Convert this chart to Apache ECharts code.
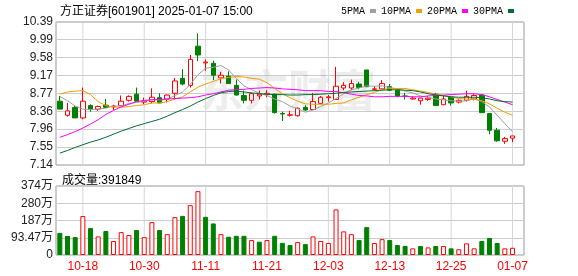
<!DOCTYPE html>
<html><head><meta charset="utf-8">
<script src="https://cdn.jsdelivr.net/npm/echarts@6/dist/echarts.min.js"></script>
<style>html,body{margin:0;padding:0;background:#fff}#c{width:578px;height:276px}</style>
</head><body><div id="c"></div>
<script>
const dates = ['10-15','10-16','10-17','10-18','10-21','10-22','10-23','10-24','10-25','10-28','10-29','10-30','10-31',
'11-01','11-04','11-05','11-06','11-07','11-08','11-11','11-12','11-13','11-14','11-15','11-18','11-19','11-20','11-21','11-22','11-25','11-26','11-27','11-28','11-29',
'12-02','12-03','12-04','12-05','12-06','12-09','12-10','12-11','12-12','12-13','12-16','12-17','12-18','12-19','12-20','12-23','12-24','12-25','12-26','12-27','12-30','12-31',
'01-02','01-03','01-06','01-07'];
const opens  = [8.59,8.27,8.45,8.21,8.49,8.41,8.50,8.46,8.49,8.61,8.75,8.57,8.58,8.67,8.64,8.77,9.11,8.95,9.84,9.46,9.45,9.12,9.16,8.95,8.72,8.61,8.71,8.74,8.75,8.31,8.27,8.26,8.45,8.40,8.54,8.67,8.63,8.89,8.89,8.98,9.30,8.86,8.87,8.92,8.84,8.71,8.64,8.60,8.63,8.75,8.51,8.68,8.57,8.61,8.64,8.73,8.31,7.93,7.68,7.75];
const closes = [8.41,8.37,8.21,8.59,8.40,8.47,8.45,8.48,8.59,8.70,8.59,8.59,8.68,8.55,8.73,9.05,8.98,9.54,9.64,9.48,9.18,9.18,8.99,8.73,8.61,8.76,8.75,8.77,8.33,8.30,8.28,8.43,8.39,8.58,8.68,8.69,8.93,8.95,8.99,8.90,8.92,8.87,8.99,8.84,8.71,8.70,8.66,8.66,8.66,8.49,8.64,8.55,8.61,8.70,8.72,8.33,7.93,7.69,7.74,7.80];
const lows   = [8.41,8.24,8.21,8.18,8.35,8.37,8.44,8.39,8.49,8.58,8.59,8.52,8.54,8.55,8.56,8.63,8.95,8.90,9.50,9.28,9.07,8.99,8.99,8.72,8.54,8.54,8.63,8.68,8.31,8.14,8.24,8.24,8.37,8.40,8.52,8.58,8.62,8.84,8.84,8.86,8.91,8.83,8.87,8.83,8.68,8.63,8.63,8.51,8.60,8.49,8.50,8.49,8.54,8.58,8.61,8.32,7.84,7.67,7.62,7.66];
const highs  = [8.71,8.55,8.49,8.90,8.52,8.49,8.64,8.51,8.72,8.72,8.90,8.67,8.88,8.77,8.74,9.12,9.32,9.64,10.13,9.54,9.51,9.26,9.27,9.08,8.83,8.78,8.83,8.84,8.76,8.35,8.37,8.45,8.50,8.78,8.71,8.73,9.37,9.02,9.08,9.03,9.30,8.93,9.07,8.98,8.86,8.78,8.70,8.67,8.71,8.78,8.71,8.71,8.63,8.83,8.75,8.75,8.32,7.98,7.78,7.80];
const ma5  = [8.70,8.60,8.48,8.41,8.40,8.41,8.43,8.48,8.48,8.54,8.56,8.59,8.63,8.62,8.63,8.72,8.80,8.97,9.19,9.34,9.36,9.40,9.30,9.11,8.94,8.85,8.77,8.72,8.64,8.58,8.48,8.42,8.34,8.39,8.47,8.55,8.65,8.76,8.85,8.89,8.94,8.93,8.94,8.90,8.87,8.82,8.78,8.71,8.68,8.64,8.62,8.60,8.59,8.60,8.64,8.58,8.46,8.27,8.08,7.90];
const ma10 = [8.75,8.80,8.82,8.83,8.74,8.58,8.49,8.46,8.45,8.47,8.49,8.51,8.55,8.55,8.58,8.64,8.69,8.80,8.91,8.98,9.04,9.10,9.13,9.15,9.14,9.11,9.09,9.01,8.88,8.76,8.67,8.59,8.53,8.52,8.52,8.52,8.54,8.55,8.62,8.68,8.74,8.79,8.85,8.88,8.88,8.88,8.85,8.82,8.79,8.75,8.72,8.69,8.65,8.64,8.64,8.60,8.53,8.43,8.34,8.27];
const ma20 = [7.77,7.83,7.90,7.98,8.07,8.17,8.29,8.38,8.46,8.52,8.58,8.61,8.62,8.63,8.64,8.65,8.66,8.67,8.69,8.73,8.76,8.80,8.84,8.85,8.86,8.88,8.89,8.90,8.89,8.87,8.86,8.85,8.83,8.83,8.83,8.81,8.81,8.78,8.75,8.72,8.71,8.69,8.69,8.70,8.70,8.70,8.69,8.69,8.71,8.72,8.73,8.74,8.75,8.76,8.76,8.74,8.69,8.63,8.57,8.51];
const ma30 = [7.41,7.47,7.54,7.60,7.66,7.71,7.77,7.84,7.91,7.97,8.03,8.08,8.13,8.18,8.25,8.33,8.40,8.48,8.57,8.65,8.72,8.78,8.81,8.82,8.80,8.78,8.76,8.75,8.74,8.74,8.73,8.73,8.74,8.74,8.75,8.76,8.77,8.79,8.80,8.81,8.82,8.83,8.84,8.85,8.85,8.84,8.83,8.80,8.76,8.73,8.71,8.69,8.68,8.68,8.68,8.67,8.64,8.60,8.58,8.57];
const volumes = [1200000,1030000,970000,2110000,1460000,1010000,1300000,760000,1240000,1080000,1350000,970000,1780000,1350000,1130000,2050000,2120000,2700000,3460000,2070000,1710000,1130000,990000,1040000,1040000,810000,720000,810000,1040000,660000,540000,700000,590000,1010000,760000,650000,2470000,1280000,1130000,810000,1510000,650000,860000,810000,540000,490000,360000,490000,410000,490000,490000,360000,310000,630000,360000,760000,920000,650000,360000,391849];
const volDir = [-1,-1,-1,1,-1,1,-1,1,1,1,-1,1,1,-1,1,1,-1,1,1,-1,-1,1,-1,-1,-1,1,-1,1,-1,-1,-1,1,-1,1,1,1,1,1,1,-1,-1,1,1,-1,-1,-1,1,-1,1,-1,1,-1,1,1,1,-1,-1,-1,1,1];
const priceTicks = [7.14,7.55,7.96,8.36,8.77,9.17,9.58,9.99,10.39];
const volTicks = [0,934700,1869400,2804100,3738800];
const volTickLabels = ['0','93.47万','187万','280万','374万'];
const stockName = '方正证券[601901] 2025-01-07 15:00';

const cats = dates.concat(['']);
const RED = '#ff0000', GREEN = '#008000';
const FONT = '"Liberation Sans","Noto Sans CJK SC",sans-serif';
const showIdx = (i) => i >= 3 && (i - 3) % 8 === 0 && i < dates.length;

const kData = opens.map((o, i) => [o, closes[i], lows[i], highs[i]]);
const volData = volumes.map((v, i) => ({
  value: v,
  itemStyle: volDir[i] > 0 ? {color: '#fff', borderColor: RED, borderWidth: 1} : {color: GREEN, borderColor: GREEN, borderWidth: 1}
}));

// vertical guides at labelled trading days: 1px bars spanning each panel's axis range
const guideSeries = (xi, yi, top) => ({
  type: 'bar', xAxisIndex: xi, yAxisIndex: yi, silent: true, z: 1, animation: false,
  barWidth: 1, clip: true,
  data: cats.map((d, i) => (showIdx(i) ? top : '-')),
  itemStyle: {color: '#d6d6d6'}, emphasis: {disabled: true}
});

const chart = echarts.init(document.getElementById('c'), null, {renderer: 'canvas'});
const lineS = (name, data, color) => ({
  name, type: 'line', data, xAxisIndex: 0, yAxisIndex: 0, showSymbol: false, symbol: 'none',
  lineStyle: {width: 1, color}, itemStyle: {color}, animation: false, z: 3
});
const hiddenCat = (g) => ({type: 'category', gridIndex: g, data: cats, boundaryGap: true, show: false});
chart.setOption({
  animation: false,
  backgroundColor: '#fff',
  textStyle: {fontFamily: FONT},
  title: [
    {text: stockName, left: 55, top: 1, textStyle: {fontSize: 12, fontWeight: 'normal', color: '#000', fontFamily: FONT}},
    {text: '成交量:' + volumes[volumes.length - 1], left: 57, top: 170, textStyle: {fontSize: 12, fontWeight: 'normal', color: '#000', fontFamily: FONT}}
  ],
  legend: {
    left: 336, top: 1, align: 'right', itemGap: 5, itemWidth: 6, itemHeight: 4, icon: 'rect',
    textStyle: {fontSize: 10, color: '#000', fontFamily: '"Liberation Mono",monospace'},
    data: ['5PMA', '10PMA', '20PMA', '30PMA']
  },
  graphic: [{
    type: 'text', left: 200, top: 68, silent: true, z: 1,
    style: {text: '东方财富', fontSize: 44, fontWeight: 'bold', fill: 'rgba(0,0,0,0.07)', fontFamily: '"Noto Sans CJK SC",sans-serif'}
  }],
  grid: [
    {left: 56, top: 22, width: 468, height: 143, show: true, borderColor: '#999', borderWidth: 1},
    {left: 56, top: 186, width: 468, height: 69, show: true, borderColor: '#999', borderWidth: 1}
  ],
  xAxis: [
    {type: 'category', gridIndex: 0, data: cats, boundaryGap: true,
     axisLine: {show: false}, axisTick: {show: false}, axisLabel: {show: false}, splitLine: {show: false}},
    {type: 'category', gridIndex: 1, data: cats, boundaryGap: true,
     axisLine: {show: false}, axisTick: {show: false}, splitLine: {show: false},
     axisLabel: {show: true, interval: (i) => showIdx(i), color: RED, fontSize: 12, margin: 6, fontFamily: FONT}},
    hiddenCat(0),
    hiddenCat(1)
  ],
  yAxis: [
    {type: 'value', gridIndex: 0, min: priceTicks[0], max: priceTicks[priceTicks.length - 1],
     axisLine: {show: false}, axisTick: {show: false, customValues: priceTicks},
     axisLabel: {customValues: priceTicks, formatter: (v) => v.toFixed(2), color: '#222', fontSize: 12, margin: 3, fontFamily: FONT},
     splitLine: {show: true, lineStyle: {color: '#ccc', width: 1}}},
    {type: 'value', gridIndex: 1, min: 0, max: volTicks[volTicks.length - 1],
     axisLine: {show: false}, axisTick: {show: false, customValues: volTicks},
     axisLabel: {customValues: volTicks, formatter: (v) => volTickLabels[volTicks.indexOf(v)], color: '#222', fontSize: 12, margin: 3, fontFamily: FONT},
     splitLine: {show: true, lineStyle: {color: '#ccc', width: 1}}}
  ],
  series: [
    guideSeries(2, 0, priceTicks[priceTicks.length - 1]),
    guideSeries(3, 1, volTicks[volTicks.length - 1]),
    {name: 'K', type: 'candlestick', xAxisIndex: 0, yAxisIndex: 0, data: kData, barWidth: 5, z: 2,
     itemStyle: {color: '#fff', color0: GREEN, borderColor: RED, borderColor0: GREEN, borderWidth: 1}},
    lineS('5PMA', ma5, '#a0a0a0'),
    lineS('10PMA', ma10, '#f0a000'),
    lineS('20PMA', ma20, '#ff00ff'),
    lineS('30PMA', ma30, '#006f30'),
    {name: 'VOL', type: 'bar', xAxisIndex: 1, yAxisIndex: 1, data: volData, barWidth: 5, z: 2}
  ]
});
</script>
</body></html>
